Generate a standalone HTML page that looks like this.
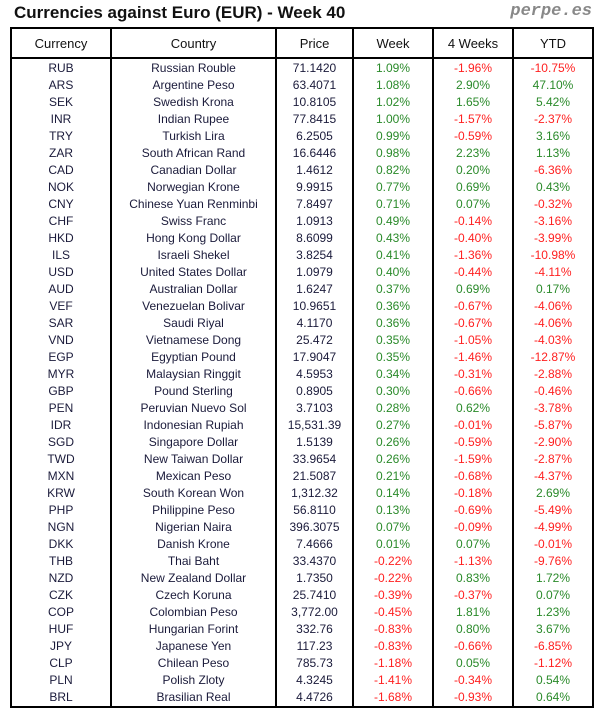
<!DOCTYPE html>
<html><head><meta charset="utf-8"><style>
body{margin:0;background:#fff;width:604px;height:716px;position:relative;font-family:"Liberation Sans","DejaVu Sans",sans-serif;overflow:hidden}
.t{position:absolute;left:14px;top:3px;font-size:17px;font-weight:bold;color:#111}
.p{position:absolute;right:12px;top:2px;font-family:"Liberation Mono",monospace;font-weight:bold;font-style:italic;font-size:17px;color:#888}
table{position:absolute;left:10px;top:27px;border-collapse:collapse;border:2px solid #000;table-layout:fixed}
th{height:28px;padding:0;font-weight:normal;font-size:13px;border:2px solid #000;color:#111}
td{height:17px;padding:0;font-size:12px;text-align:center;border-left:2px solid #000;border-right:2px solid #000;color:#1a1a3a;line-height:17px}
tr.f td{line-height:18px;height:18px}
.g{color:#2a8a2a}.r{color:#ff2020}
</style></head><body>
<div class="t">Currencies against Euro (EUR) - Week 40</div>
<div class="p">perpe.es</div>
<table>
<colgroup><col style="width:100px"><col style="width:165px"><col style="width:77px"><col style="width:80px"><col style="width:80px"><col style="width:80px"></colgroup>
<tr><th>Currency</th><th>Country</th><th>Price</th><th>Week</th><th>4 Weeks</th><th>YTD</th></tr>
<tbody id="b"></tbody>
</table>
<script>
var d=[["RUB","Russian Rouble","71.1420","1.09%","-1.96%","-10.75%"],
["ARS","Argentine Peso","63.4071","1.08%","2.90%","47.10%"],
["SEK","Swedish Krona","10.8105","1.02%","1.65%","5.42%"],
["INR","Indian Rupee","77.8415","1.00%","-1.57%","-2.37%"],
["TRY","Turkish Lira","6.2505","0.99%","-0.59%","3.16%"],
["ZAR","South African Rand","16.6446","0.98%","2.23%","1.13%"],
["CAD","Canadian Dollar","1.4612","0.82%","0.20%","-6.36%"],
["NOK","Norwegian Krone","9.9915","0.77%","0.69%","0.43%"],
["CNY","Chinese Yuan Renminbi","7.8497","0.71%","0.07%","-0.32%"],
["CHF","Swiss Franc","1.0913","0.49%","-0.14%","-3.16%"],
["HKD","Hong Kong Dollar","8.6099","0.43%","-0.40%","-3.99%"],
["ILS","Israeli Shekel","3.8254","0.41%","-1.36%","-10.98%"],
["USD","United States Dollar","1.0979","0.40%","-0.44%","-4.11%"],
["AUD","Australian Dollar","1.6247","0.37%","0.69%","0.17%"],
["VEF","Venezuelan Bolivar","10.9651","0.36%","-0.67%","-4.06%"],
["SAR","Saudi Riyal","4.1170","0.36%","-0.67%","-4.06%"],
["VND","Vietnamese Dong","25.472","0.35%","-1.05%","-4.03%"],
["EGP","Egyptian Pound","17.9047","0.35%","-1.46%","-12.87%"],
["MYR","Malaysian Ringgit","4.5953","0.34%","-0.31%","-2.88%"],
["GBP","Pound Sterling","0.8905","0.30%","-0.66%","-0.46%"],
["PEN","Peruvian Nuevo Sol","3.7103","0.28%","0.62%","-3.78%"],
["IDR","Indonesian Rupiah","15,531.39","0.27%","-0.01%","-5.87%"],
["SGD","Singapore Dollar","1.5139","0.26%","-0.59%","-2.90%"],
["TWD","New Taiwan Dollar","33.9654","0.26%","-1.59%","-2.87%"],
["MXN","Mexican Peso","21.5087","0.21%","-0.68%","-4.37%"],
["KRW","South Korean Won","1,312.32","0.14%","-0.18%","2.69%"],
["PHP","Philippine Peso","56.8110","0.13%","-0.69%","-5.49%"],
["NGN","Nigerian Naira","396.3075","0.07%","-0.09%","-4.99%"],
["DKK","Danish Krone","7.4666","0.01%","0.07%","-0.01%"],
["THB","Thai Baht","33.4370","-0.22%","-1.13%","-9.76%"],
["NZD","New Zealand Dollar","1.7350","-0.22%","0.83%","1.72%"],
["CZK","Czech Koruna","25.7410","-0.39%","-0.37%","0.07%"],
["COP","Colombian Peso","3,772.00","-0.45%","1.81%","1.23%"],
["HUF","Hungarian Forint","332.76","-0.83%","0.80%","3.67%"],
["JPY","Japanese Yen","117.23","-0.83%","-0.66%","-6.85%"],
["CLP","Chilean Peso","785.73","-1.18%","0.05%","-1.12%"],
["PLN","Polish Zloty","4.3245","-1.41%","-0.34%","0.54%"],
["BRL","Brasilian Real","4.4726","-1.68%","-0.93%","0.64%"]];
var h="";d.forEach(function(r,i){h+='<tr'+(i==0?' class="f"':'')+'>';r.forEach(function(c,j){var cl=j>=3?(c[0]=="-"?"r":"g"):"";h+='<td class="'+cl+'">'+c+'</td>';});h+='</tr>';});
document.getElementById("b").innerHTML=h;
</script>
</body></html>
